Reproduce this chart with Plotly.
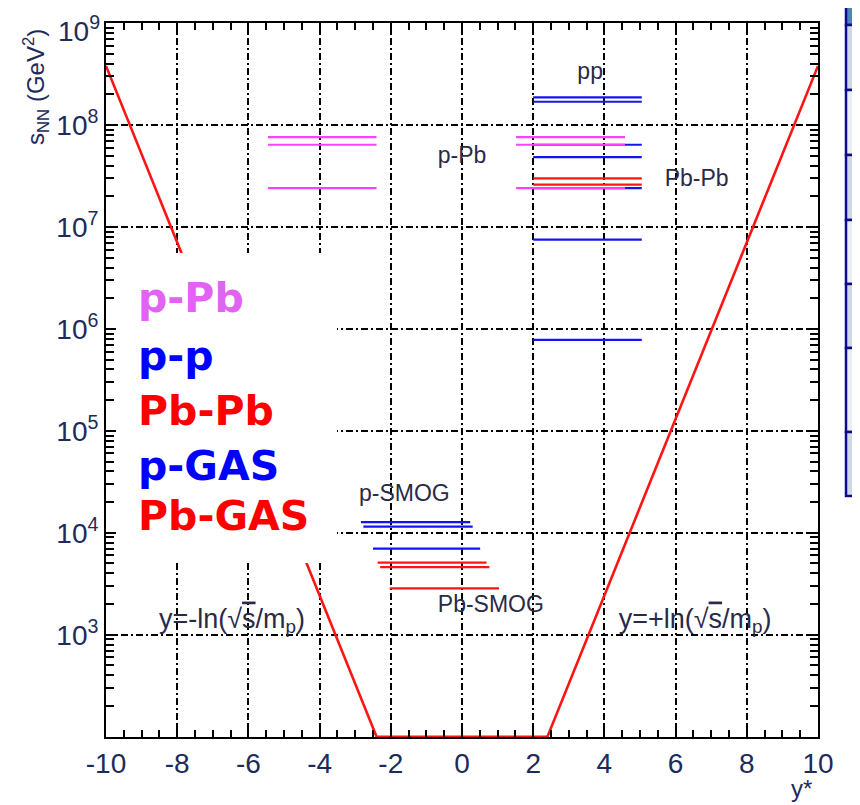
import plotly.graph_objects as go

# ---------------- data ----------------
# kinematic limit y* = ±ln(√s/m_p): corner points of the V
limit_y = [-10, -2.4, 2.4, 10]
limit_s = [3.8e8, 1e2, 1e2, 3.8e8]

# collider p-p (blue) segments: start y*, end y*, s_NN
pp_y0 = [2.0, 2.0, 2.0, 2.0, 2.0, 2.0, 2.0]
pp_y1 = [5.05, 5.05, 5.05, 5.05, 5.05, 5.05, 5.05]
pp_s = [1.87e8, 1.69e8, 6.4e7, 4.85e7, 2.4e7, 7.5e6, 7.8e5]

# collider Pb-Pb (red)
PbPb_y0 = [2.0, 2.0]
PbPb_y1 = [5.05, 5.05]
PbPb_s = [3.0e7, 2.6e7]

# collider p-Pb / Pb-p (magenta)
pPb_y0 = [-5.45, -5.45, -5.45, 1.52, 1.52, 1.52]
pPb_y1 = [-2.4, -2.4, -2.4, 4.58, 4.58, 4.58]
pPb_s = [7.6e7, 6.4e7, 2.4e7, 7.6e7, 6.4e7, 2.4e7]

# fixed target p-SMOG (blue)
pSMOG_y0 = [-2.84, -2.77, -2.5]
pSMOG_y1 = [0.23, 0.30, 0.51]
pSMOG_s = [1.27e4, 1.15e4, 7.0e3]

# fixed target Pb-SMOG (red)
PbSMOG_y0 = [-2.37, -2.3, -2.03]
PbSMOG_y1 = [0.69, 0.77, 1.04]
PbSMOG_s = [5.1e3, 4.6e3, 2.85e3]

# in-plot text labels
label_text = ["pp", "p-Pb", "Pb-Pb", "p-SMOG", "Pb-SMOG"]
label_y = [3.6, 0.0, 6.59, -1.62, 0.81]
label_s = [3.25e8, 4.8e7, 2.9e7, 2.35e4, 1.9e3]

formula_text = ["y=-ln(√<span style='text-decoration:overline'>s</span>/m<sub>p</sub>)",
                "y=+ln(√<span style='text-decoration:overline'>s</span>/m<sub>p</sub>)"]
formula_y = [-6.46, 6.55]
formula_s = [1.37e3, 1.37e3]

# axis ticks
x_tickvals = [-10, -8, -6, -4, -2, 0, 2, 4, 6, 8, 10]
x_ticktext = ["-10", "-8", "-6", "-4", "-2", "0", "2", "4", "6", "8", "10"]
y_tickvals = [1e3, 1e4, 1e5, 1e6, 1e7, 1e8, 1e9]
y_ticktext = ["10<sup>3</sup>", "10<sup>4</sup>", "10<sup>5</sup>", "10<sup>6</sup>",
              "10<sup>7</sup>", "10<sup>8</sup>", "10<sup>9</sup>"]

# big coloured legend
legend_names = ["p-Pb", "p-p", "Pb-Pb", "p-GAS", "Pb-GAS"]
legend_colors = ["#e262f4", "#0000ff", "#ff0000", "#0000ff", "#ff0000"]

# table fragment on the right edge (fills per row)
table_fills = ["#4f81bd", "#d0d8e8", "#e9edf4", "#d0d8e8", "#e9edf4",
               "#d0d8e8", "#e9edf4", "#d0d8e8"]

# ---------------- figure geometry ----------------
# the page body has an 8px margin, so the figure is 8px smaller and the
# margins are 8px less on the left/top to land the plot on the same pixels
BODY = 8
W, H = 860 - BODY, 805 - BODY
ML, MR, MT, MB = 106 - BODY, 42, 23 - BODY, 68
PW, PH = W - ML - MR, H - MT - MB


def px(x):
    """page pixel x -> paper x"""
    return (x - BODY - ML) / PW


def py(y):
    """page pixel y -> paper y"""
    return 1 - (y - BODY - MT) / PH


def segs(y0, y1, s):
    xs, ys = [], []
    for a, b, v in zip(y0, y1, s):
        xs += [a, b, None]
        ys += [v, v, None]
    return xs, ys


BLUE = "#1414f0"
RED = "#ff1414"
MAG = "#ff40ff"
TXT = "#1c2b5a"

fig = go.Figure()

for (y0, y1, s, col) in [(pp_y0, pp_y1, pp_s, BLUE),
                         (PbPb_y0, PbPb_y1, PbPb_s, RED),
                         (pPb_y0, pPb_y1, pPb_s, MAG),
                         (pSMOG_y0, pSMOG_y1, pSMOG_s, BLUE),
                         (PbSMOG_y0, PbSMOG_y1, PbSMOG_s, RED)]:
    xs, ys = segs(y0, y1, s)
    fig.add_trace(go.Scatter(x=xs, y=ys, mode="lines",
                             line=dict(color=col, width=2.2),
                             hoverinfo="skip", showlegend=False))

fig.add_trace(go.Scatter(x=limit_y, y=limit_s, mode="lines",
                         line=dict(color=RED, width=2.6),
                         hoverinfo="skip", showlegend=False))

fig.add_trace(go.Scatter(x=label_y, y=label_s, mode="text", text=label_text,
                         textposition="middle center",
                         textfont=dict(family="Liberation Sans, Arial", size=23,
                                       color="#2a2a48"),
                         hoverinfo="skip", showlegend=False))
fig.add_trace(go.Scatter(x=formula_y, y=formula_s, mode="text", text=formula_text,
                         textposition="middle center",
                         textfont=dict(family="Liberation Sans, Arial", size=27,
                                       color="#2a2a48"),
                         hoverinfo="skip", showlegend=False))

axis_font = dict(family="Liberation Sans, Arial", size=28, color=TXT)
grid_common = dict(showgrid=True, gridcolor="black", gridwidth=1.5,
                   griddash="7px,3px,2px,3px", showline=True, linecolor="black",
                   linewidth=2, mirror="allticks", ticks="inside",
                   tickcolor="black", tickwidth=1.5, ticklen=12,
                   zeroline=False, tickfont=axis_font, automargin=False)

fig.update_xaxes(range=[-10, 10], tickmode="array", tickvals=x_tickvals,
                 ticktext=x_ticktext,
                 minor=dict(dtick=0.5, ticks="inside", ticklen=7,
                            tickcolor="black", tickwidth=1.5, showgrid=False),
                 **grid_common)
# the top label (10^9) would poke out of the page, so it is drawn as an
# annotation tucked just inside the top edge
fig.update_yaxes(type="log", range=[1.997, 9.0005], tickmode="array",
                 tickvals=y_tickvals, ticktext=y_ticktext[:-1] + [""],
                 minor=dict(dtick="D1", ticks="inside", ticklen=8,
                            tickcolor="black", tickwidth=1.5, showgrid=False),
                 **grid_common)

shapes = []
# white legend panel
shapes.append(dict(type="rect", xref="paper", yref="paper",
                   x0=px(116), x1=px(337), y0=py(563), y1=py(253),
                   fillcolor="white", line=dict(width=0), layer="above"))
# table fragment
row_edges = [-2, 25, 90, 155, 220, 284, 348, 432, 496]
for i, f in enumerate(table_fills):
    shapes.append(dict(type="rect", xref="paper", yref="paper",
                       x0=px(846), x1=px(880), y0=py(row_edges[i + 1]),
                       y1=py(row_edges[i]), fillcolor=f,
                       line=dict(color="#0c0c8a", width=2.5), layer="above"))

annotations = []
annotations.append(dict(xref="paper", yref="paper", x=px(102), y=py(8.5),
                        xanchor="right", yanchor="top", showarrow=False,
                        text=y_ticktext[-1], font=axis_font))
legend_rows = [298, 356, 411, 466, 516]
for name, col, yy in zip(legend_names, legend_colors, legend_rows):
    annotations.append(dict(xref="paper", yref="paper", x=px(136), y=py(yy),
                            xanchor="left", yanchor="middle", showarrow=False,
                            text="<b>" + name + "</b>",
                            font=dict(family="Comic Sans MS, DejaVu Sans", size=41,
                                      color=col)))
annotations.append(dict(xref="paper", yref="paper", x=px(36), y=py(87),
                        xanchor="center", yanchor="middle", showarrow=False,
                        textangle=-90,
                        text="s<sub>NN</sub> (GeV<sup>2</sup>)",
                        font=dict(family="Liberation Sans, Arial", size=24,
                                  color=TXT)))
annotations.append(dict(xref="paper", yref="paper", x=px(814), y=py(788),
                        xanchor="right", yanchor="middle", showarrow=False,
                        text="y*",
                        font=dict(family="Liberation Sans, Arial", size=24,
                                  color=TXT)))

fig.update_layout(width=W, height=H, margin=dict(l=ML, r=MR, t=MT, b=MB),
                  plot_bgcolor="white", paper_bgcolor="white",
                  showlegend=False, shapes=shapes, annotations=annotations)

fig.write_html("out.html")
